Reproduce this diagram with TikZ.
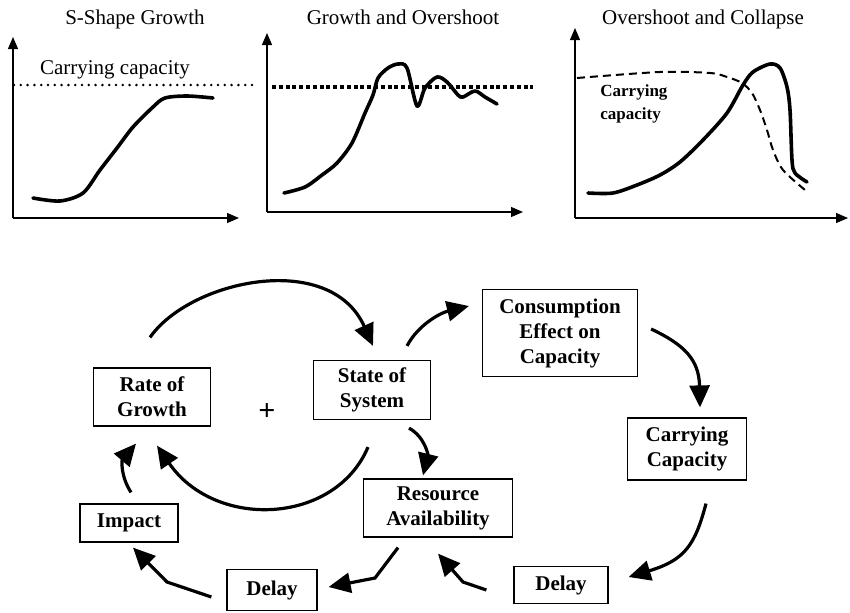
\documentclass[tikz,border=0pt]{standalone}
\usepackage{fontspec}
\setmainfont{Liberation Serif}
\usepackage{tikz}
\usetikzlibrary{arrows.meta, calc}

\begin{document}
\begin{tikzpicture}[x=0.5pt, y=-0.5pt,
    axis/.style={line width=0.6pt, -{Triangle[length=6pt,width=5pt]}},
    trend/.style={line width=1.8pt, line join=round, line cap=round},
    box/.style={draw, line width=0.6pt, align=center, inner sep=0pt, font=\fontsize{10.5}{12.5}\selectfont\bfseries},
    flow/.style={line width=1.6pt, -{Triangle[length=11pt,width=10pt]}},
    title/.style={anchor=base, font=\fontsize{10.5}{12.5}\selectfont}]
          \useasboundingbox (0,0) rectangle (850,612);
          \node[title] (t1) at (135,24) {S-Shape Growth};
          \draw[axis] (13,218) -- (13,37);
          \draw[axis] (13,218) -- (239,218);
          \draw[line width=1.4pt, line cap=round, dash pattern=on 0pt off 3.4pt] (14,85) -- (255,85);
          \node[title] (cap1) at (115,74) {Carrying capacity};
          \draw[trend] plot[smooth, tension=0.5] coordinates {(33,198) (60,201) (83,193) (100,170) (117,148) (133,127) (153,107) (165,98) (187,96) (213,98)};
          \node[title] (t2) at (403,24) {Growth and Overshoot};
          \draw[axis] (267,212) -- (267,33);
          \draw[axis] (267,212) -- (523,212);
          \draw[line width=2pt, dash pattern=on 2pt off 1.4pt] (272,87) -- (533,87);
          \draw[trend] plot[smooth, tension=0.5] coordinates {(284,193) (305,187) (322,175) (337,163) (352,143) (365,113) (373,95) (378,78) (388,68) (398,64) (407,68) (417,106) (425,88) (437,77) (447,82) (458,95) (463,97) (475,91) (485,97) (497,104)};
          \node[title] (t3) at (703,24) {Overshoot and Collapse};
          \draw[axis] (575,218) -- (575,28);
          \draw[axis] (575,218) -- (848,218);
          \draw[line width=1pt, dash pattern=on 4pt off 2.5pt] plot[smooth, tension=0.5] coordinates {(577,78) (660,72) (710,73) (727,77) (742,83) (752,93) (760,110) (767,130) (773,150) (783,170) (805,190)};
          \draw[trend] plot[smooth, tension=0.5] coordinates {(588,193) (613,193) (637,185) (660,175) (680,162) (703,140) (727,113) (743,85) (753,72) (770,64) (780,68) (787,87) (790,110) (792,160) (795,173) (807,182)};
          \node[anchor=west, align=left, inner sep=0pt, font=\fontsize{8.5}{11.5}\selectfont\bfseries] (cap3) at (600,104) {Carrying\\capacity};
          \node[box, minimum width=58.5pt, minimum height=29pt] (rate) at (152,397) {Rate of\\Growth};
          \node[box, minimum width=58.5pt, minimum height=29.5pt] (state) at (372,390) {State of\\System};
          \node[box, minimum width=77.5pt, minimum height=43.5pt] (cons) at (560,333) {Consumption\\Effect on\\Capacity};
          \node[box, minimum width=59.5pt, minimum height=31pt] (carry) at (687,449) {Carrying\\Capacity};
          \node[box, minimum width=74.5pt, minimum height=29pt] (res) at (438,508) {Resource\\Availability};
          \node[box, minimum width=49pt, minimum height=19pt] (impact) at (129,523) {Impact};
          \node[box, minimum width=45pt, minimum height=20.5pt] (delayL) at (272,590) {Delay};
          \node[box, minimum width=47pt, minimum height=18.5pt] (delayR) at (561,585) {Delay};
          \node[font=\fontsize{15}{15}\selectfont\bfseries] (plus) at (267,412) {+};
          \draw[flow] ($(rate.north)+(-2,-30)$) .. controls (190,280) and (330,250) .. ($(state.north)+(1,-14)$);
          \draw[flow] ($(state.north)+(35,-14)$) .. controls (418,325) and (440,313) .. ($(cons.west)+(-13,-27)$);
          \draw[flow] ($(cons.east)+(13,-4)$) .. controls (685,345) and (699,360) .. ($(carry.north)+(13,-10)$);
          \draw[flow] ($(carry.south)+(19,23)$) .. controls (695,545) and (685,560) .. ($(delayR.east)+(20,-8)$);
          \draw[flow] ($(delayR.west)+(-27,5)$) -- (463,582) -- ($(res.south)+(0,16)$);
          \draw[flow] ($(res.south)+(-40,10)$) -- (375,578) -- ($(delayL.east)+(11,-3)$);
          \draw[flow] ($(delayL.west)+(-15,7)$) -- (167,582) -- ($(impact.south)+(4,5)$);
          \draw[flow] ($(impact.north)+(2,-11)$) .. controls (120,475) and (122,460) .. ($(rate.south)+(-16,17)$);
          \draw[flow] ($(state.south)+(-4,27)$) .. controls (335,525) and (215,530) .. ($(rate.south)+(5,19)$);
          \draw[flow] ($(state.south)+(37,8)$) .. controls (425,437) and (428,455) .. ($(res.north)+(-15,-3)$);
        \end{tikzpicture}
\end{document}
